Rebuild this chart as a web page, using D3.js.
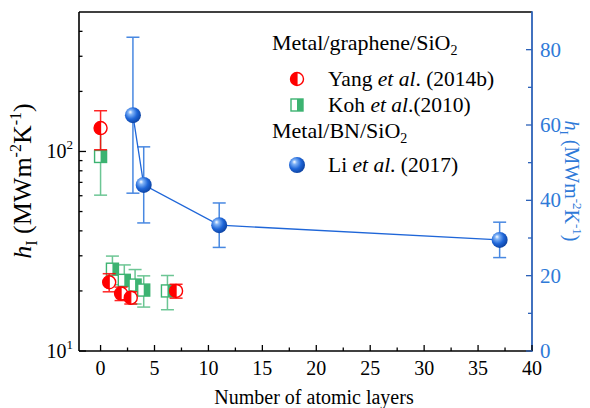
<!DOCTYPE html>
<html>
<head>
<meta charset="utf-8">
<script src="https://cdn.jsdelivr.net/npm/d3@7"></script>
<style>
  body { margin: 0; background: #fff; }
  text { font-family: "Liberation Serif", "Times New Roman", serif; }
</style>
</head>
<body>
<svg id="chart" width="590" height="408"></svg>
<script>
// data
const yangX   = [0, 0.8, 1.9, 2.8, 7];
const yangY   = [131, 22.1, 19.4, 18.5, 20.0];
const yangErr = [29, 2.3, 1.5, 1.3, 1.6];

const kohX   = [0, 1.1, 2.2, 3.2, 4.0, 6.2];
const kohY   = [94.4, 25.7, 22.6, 21.4, 20.2, 20.0];
const kohErr = [34, 4.2, 4.4, 4.2, 3.6, 3.9];

const liX   = [3, 4, 11, 37];
const liY   = [62.6, 44.1, 33.4, 29.5];
const liErr = [20.7, 10.1, 5.9, 4.7];

const xTicks      = [0, 5, 10, 15, 20, 25, 30, 35, 40];
const xMinorTicks = [2.5, 7.5, 12.5, 17.5, 22.5, 27.5, 32.5, 37.5];
const yLeftMajor  = [10, 100];
const yLeftMinor  = [20, 30, 40, 50, 60, 70, 80, 90, 200, 300, 400];
const yRightMajor = [0, 20, 40, 60, 80];
const yRightMinor = [10, 30, 50, 70];

const RED = "#ff0000", GREEN = "#3cb371", BLUE = "#1f66d8", AXBLUE = "#2d62b8", TXTBLUE = "#2f7ad8";

const svg = d3.select("#chart");
const L = 79, R = 532, T = 12, B = 351;

const x  = d3.scaleLinear().domain([-2, 40]).range([L, R]);
const yL = d3.scaleLog().domain([10, 500]).range([B, T]);
const yR = d3.scaleLinear().domain([0, 90]).range([B, T]);

// gradient for the spheres
const defs = svg.append("defs");
const grad = defs.append("radialGradient").attr("id", "ball")
  .attr("cx", 0.4).attr("cy", 0.4).attr("r", 0.65).attr("fx", 0.33).attr("fy", 0.3);
grad.append("stop").attr("offset", 0).attr("stop-color", "#ffffff");
grad.append("stop").attr("offset", 0.22).attr("stop-color", "#7fb2f6");
grad.append("stop").attr("offset", 0.6).attr("stop-color", "#1f66d8");
grad.append("stop").attr("offset", 1).attr("stop-color", "#0b3f9c");

// ---- axes ----
const axisG = svg.append("g");
axisG.append("line").attr("x1", L).attr("x2", R).attr("y1", T).attr("y2", T)
  .attr("stroke", "#000").attr("stroke-width", 1.6);
axisG.append("line").attr("x1", L).attr("x2", L).attr("y1", T).attr("y2", B)
  .attr("stroke", "#000").attr("stroke-width", 1.6);
axisG.append("line").attr("x1", L).attr("x2", R).attr("y1", B).attr("y2", B)
  .attr("stroke", "#000").attr("stroke-width", 1.6);
axisG.append("line").attr("x1", R).attr("x2", R).attr("y1", T - 0.8).attr("y2", B + 0.8)
  .attr("stroke", AXBLUE).attr("stroke-width", 1.8);

// bottom ticks (inward)
axisG.selectAll(".xt").data(xTicks).enter().append("line")
  .attr("x1", d => x(d)).attr("x2", d => x(d)).attr("y1", B).attr("y2", B - 6)
  .attr("stroke", "#000").attr("stroke-width", 1.3);
axisG.selectAll(".xm").data(xMinorTicks).enter().append("line")
  .attr("x1", d => x(d)).attr("x2", d => x(d)).attr("y1", B).attr("y2", B - 3.5)
  .attr("stroke", "#000").attr("stroke-width", 1.3);
axisG.selectAll(".xl").data(xTicks).enter().append("text")
  .attr("x", d => x(d)).attr("y", B + 24).attr("text-anchor", "middle")
  .attr("font-size", 20).text(d => d);

// left ticks
axisG.selectAll(".ylt").data(yLeftMajor).enter().append("line")
  .attr("x1", L).attr("x2", L + 7).attr("y1", d => yL(d)).attr("y2", d => yL(d))
  .attr("stroke", "#000").attr("stroke-width", 1.3);
axisG.selectAll(".ylm").data(yLeftMinor).enter().append("line")
  .attr("x1", L).attr("x2", L + 3.5).attr("y1", d => yL(d)).attr("y2", d => yL(d))
  .attr("stroke", "#000").attr("stroke-width", 1.3);
const ylab = axisG.selectAll(".yll").data(yLeftMajor).enter().append("text")
  .attr("x", L - 6).attr("y", d => yL(d) + 7).attr("text-anchor", "end").attr("font-size", 20);
ylab.append("tspan").text("10");
ylab.append("tspan").attr("dy", -9).attr("font-size", 13).text(d => Math.round(Math.log10(d)));

// right ticks
axisG.selectAll(".yrt").data(yRightMajor).enter().append("line")
  .attr("x1", R).attr("x2", R - 6).attr("y1", d => yR(d)).attr("y2", d => yR(d))
  .attr("stroke", AXBLUE).attr("stroke-width", 1.3);
axisG.selectAll(".yrm").data(yRightMinor).enter().append("line")
  .attr("x1", R).attr("x2", R - 4).attr("y1", d => yR(d)).attr("y2", d => yR(d))
  .attr("stroke", AXBLUE).attr("stroke-width", 1.3);
axisG.selectAll(".yrl").data(yRightMajor).enter().append("text")
  .attr("x", R + 8).attr("y", d => yR(d) + 7).attr("font-size", 21)
  .attr("fill", TXTBLUE).text(d => d);

// axis titles
svg.append("text").attr("x", 314).attr("y", 404).attr("text-anchor", "middle")
  .attr("font-size", 20).text("Number of atomic layers");

function unitTitle(g, sub, sh) {
  g.append("tspan").attr("font-style", "italic").text("h");
  g.append("tspan").attr("dy", sh * 0.6).attr("font-size", sub).text("I");
  g.append("tspan").attr("dy", -sh * 0.6).text(" (MWm");
  g.append("tspan").attr("dy", -sh).attr("font-size", sub).text("-2");
  g.append("tspan").attr("dy", sh).text("K");
  g.append("tspan").attr("dy", -sh).attr("font-size", sub).text("-1");
  g.append("tspan").attr("dy", sh).text(")");
}
const tl = svg.append("text").attr("transform", "translate(31,181) rotate(-90)")
  .attr("text-anchor", "middle").attr("font-size", 26);
unitTitle(tl, 16, 10);
const tr = svg.append("text").attr("transform", "translate(565,181) rotate(90)")
  .attr("text-anchor", "middle").attr("font-size", 20).attr("fill", TXTBLUE);
unitTitle(tr, 13, 8);

// ---- markers ----
function halfCircle(g, r) {
  g.append("circle").attr("r", r).attr("fill", "#fff").attr("stroke", RED).attr("stroke-width", 1.4);
  g.append("path").attr("d", `M0,${-r} A${r},${r} 0 0 0 0,${r} Z`).attr("fill", RED);
  g.append("line").attr("y1", -r).attr("y2", r).attr("stroke", RED).attr("stroke-width", 1.2);
}
function halfSquare(g, s) {
  const h = s / 2;
  g.append("rect").attr("x", -h).attr("y", -h).attr("width", s).attr("height", s)
    .attr("fill", "#fff").attr("stroke", GREEN).attr("stroke-width", 1.4);
  g.append("rect").attr("x", 0).attr("y", -h).attr("width", h).attr("height", s).attr("fill", GREEN);
}
function ball(g, r) {
  g.append("circle").attr("r", r).attr("fill", "url(#ball)");
}

function errorBars(g, xs, ys, es, ys_scale, color, op, cap) {
  const data = xs.map((d, i) => ({x: d, y: ys[i], e: es[i]}));
  const eg = g.selectAll(null).data(data).enter().append("g")
    .attr("stroke", color).attr("stroke-width", 1.5).attr("opacity", op);
  eg.append("line").attr("x1", d => x(d.x)).attr("x2", d => x(d.x))
    .attr("y1", d => ys_scale(d.y + d.e)).attr("y2", d => ys_scale(d.y - d.e));
  eg.append("line").attr("x1", d => x(d.x) - cap).attr("x2", d => x(d.x) + cap)
    .attr("y1", d => ys_scale(d.y + d.e)).attr("y2", d => ys_scale(d.y + d.e));
  eg.append("line").attr("x1", d => x(d.x) - cap).attr("x2", d => x(d.x) + cap)
    .attr("y1", d => ys_scale(d.y - d.e)).attr("y2", d => ys_scale(d.y - d.e));
}

const plot = svg.append("g");

// Koh (green squares)
errorBars(plot, kohX, kohY, kohErr, yL, GREEN, 0.75, 6.5);
kohX.forEach((d, i) => {
  halfSquare(plot.append("g").attr("transform", `translate(${x(d)},${yL(kohY[i])})`), 12);
});

// Yang (red half circles)
errorBars(plot, yangX, yangY, yangErr, yL, RED, 0.85, 6.5);
yangX.forEach((d, i) => {
  halfCircle(plot.append("g").attr("transform", `translate(${x(d)},${yL(yangY[i])})`), 6.5);
});

// Li (blue spheres, right axis)
errorBars(plot, liX, liY, liErr, yR, "#3f82e0", 0.95, 6.5);
plot.append("path")
  .datum(liX.map((d, i) => [d, liY[i]]))
  .attr("fill", "none").attr("stroke", BLUE).attr("stroke-width", 1.3)
  .attr("d", d3.line().x(d => x(d[0])).y(d => yR(d[1])));
liX.forEach((d, i) => {
  ball(plot.append("g").attr("transform", `translate(${x(d)},${yR(liY[i])})`), 8);
});

// ---- legend ----
const lg = svg.append("g");
function header(y, main) {
  const t = lg.append("text").attr("x", 272).attr("y", y).attr("font-size", 22);
  t.append("tspan").text(main);
  t.append("tspan").attr("dy", 5).attr("font-size", 14).text("2");
}
function entry(y, a, b) {
  const t = lg.append("text").attr("x", 328).attr("y", y + 7).attr("font-size", 21.5);
  t.append("tspan").text(a);
  t.append("tspan").attr("font-style", "italic").text("et al");
  t.append("tspan").text(b);
}
header(50, "Metal/graphene/SiO");
halfCircle(lg.append("g").attr("transform", "translate(297,79)"), 6.5);
entry(79, "Yang ", ". (2014b)");
halfSquare(lg.append("g").attr("transform", "translate(297,105)"), 12);
entry(105, "Koh ", ".(2010)");
header(138, "Metal/BN/SiO");
ball(lg.append("g").attr("transform", "translate(297,165)"), 8);
entry(165, "Li ", ". (2017)");
</script>
</body>
</html>
